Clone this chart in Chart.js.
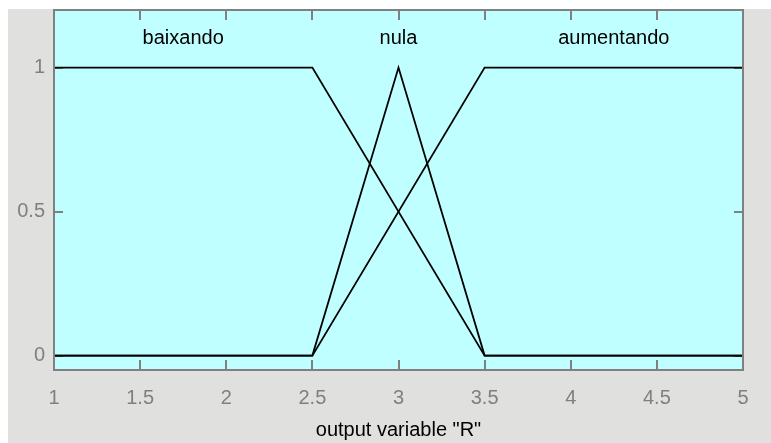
<!DOCTYPE html>
<html>
<head>
<meta charset="utf-8">
<title>output variable R</title>
<script src="https://cdn.jsdelivr.net/npm/chart.js@4/dist/chart.umd.min.js"></script>
<style>
  html, body { margin: 0; padding: 0; background: #fff; }
  canvas { display: block; }
</style>
</head>
<body>
<canvas id="mfChart" width="771" height="443"></canvas>
<script>
  // membership functions of output "R"
  const mfNames = ["baixando", "nula", "aumentando"];
  const baixandoX = [1, 2.5, 3.5, 5];
  const baixandoY = [1, 1, 0, 0];
  const nulaX = [1, 2.5, 3, 3.5, 5];
  const nulaY = [0, 0, 1, 0, 0];
  const aumentandoX = [1, 2.5, 3.5, 5];
  const aumentandoY = [0, 0, 1, 1];

  const xTicks = [1, 1.5, 2, 2.5, 3, 3.5, 4, 4.5, 5];
  const yTicks = [0, 0.5, 1];
  const xLabel = 'output variable "R"';

  const FONT = "'Liberation Sans', Arial, sans-serif";
  const AXIS_GREY = "#808080";

  const toPoints = (xs, ys) => xs.map((x, i) => ({ x, y: ys[i] }));
  const mfSeries = [
    toPoints(baixandoX, baixandoY),
    toPoints(nulaX, nulaY),
    toPoints(aumentandoX, aumentandoY),
  ];

  // label sits over the middle of where each function reaches 1
  const labelX = mfSeries.map((pts) => {
    const top = pts.filter((p) => p.y === 1).map((p) => p.x);
    return (Math.min(...top) + Math.max(...top)) / 2;
  });

  const frame = {
    id: "frame",
    beforeDraw(chart) {
      const { ctx, chartArea: a, width, height } = chart;
      ctx.save();
      ctx.fillStyle = "#fff";
      ctx.fillRect(0, 0, width, height);
      ctx.fillStyle = "#e0e0df";
      ctx.fillRect(8, 9, width - 8, height - 9);
      ctx.fillStyle = "#c0ffff";
      ctx.fillRect(a.left, a.top, a.right - a.left, a.bottom - a.top);
      ctx.restore();
    },
    beforeDatasetsDraw(chart) {
      const { ctx, chartArea: a, scales } = chart;
      ctx.save();
      ctx.strokeStyle = AXIS_GREY;
      ctx.lineWidth = 2;
      // inward tick marks on all four sides
      ctx.beginPath();
      xTicks.forEach((v) => {
        const px = Math.round(scales.x.getPixelForValue(v));
        ctx.moveTo(px, a.bottom); ctx.lineTo(px, a.bottom - 10);
        ctx.moveTo(px, a.top); ctx.lineTo(px, a.top + 10);
      });
      yTicks.forEach((v) => {
        const py = Math.round(scales.y.getPixelForValue(v));
        ctx.moveTo(a.left, py); ctx.lineTo(a.left + 9, py);
        ctx.moveTo(a.right, py); ctx.lineTo(a.right - 9, py);
      });
      ctx.stroke();
      ctx.restore();
    },
    afterDatasetsDraw(chart) {
      const { ctx, chartArea: a, scales } = chart;
      ctx.save();
      ctx.strokeStyle = AXIS_GREY;
      ctx.lineWidth = 2;
      ctx.strokeRect(a.left, a.top, a.right - a.left, a.bottom - a.top);

      // function names
      ctx.fillStyle = "#000";
      ctx.font = "20px " + FONT;
      ctx.textAlign = "center";
      ctx.textBaseline = "middle";
      mfNames.forEach((name, i) => {
        ctx.fillText(name, scales.x.getPixelForValue(labelX[i]), scales.y.getPixelForValue(1.1));
      });
      ctx.restore();
    },
  };

  new Chart(document.getElementById("mfChart"), {
    type: "scatter",
    data: {
      datasets: mfSeries.map((pts, i) => ({
        label: mfNames[i],
        data: pts,
        showLine: true,
        borderColor: "#000",
        borderWidth: 1.8,
        pointRadius: 0,
        fill: false,
      })),
    },
    options: {
      responsive: false,
      animation: false,
      devicePixelRatio: 1,
      layout: { padding: { left: 0, top: 10, right: 28, bottom: 0 } },
      plugins: { legend: { display: false }, tooltip: { enabled: false } },
      scales: {
        x: {
          type: "linear",
          min: 1,
          max: 5,
          afterBuildTicks: (s) => { s.ticks = xTicks.map((value) => ({ value })); },
          afterFit: (s) => { s.height = 73; s.paddingLeft = 0; s.paddingRight = 0; },
          grid: { display: false },
          border: { display: false },
          ticks: {
            color: AXIS_GREY,
            font: { family: FONT, size: 20 },
            padding: 8,
            maxRotation: 0,
            autoSkip: false,
            callback: (v) => String(v),
          },
          title: {
            display: true,
            text: xLabel,
            color: "#000",
            font: { family: FONT, size: 20 },
            padding: { top: 0, bottom: 1 },
          },
        },
        y: {
          type: "linear",
          min: -0.05,
          max: 1.2,
          afterBuildTicks: (s) => { s.ticks = yTicks.map((value) => ({ value })); },
          afterFit: (s) => { s.width = 54; s.paddingTop = 0; s.paddingBottom = 0; },
          grid: { display: false },
          border: { display: false },
          ticks: {
            color: AXIS_GREY,
            font: { family: FONT, size: 20 },
            padding: 1,
            callback: (v) => String(v),
          },
        },
      },
    },
    plugins: [frame],
  });
</script>
</body>
</html>
